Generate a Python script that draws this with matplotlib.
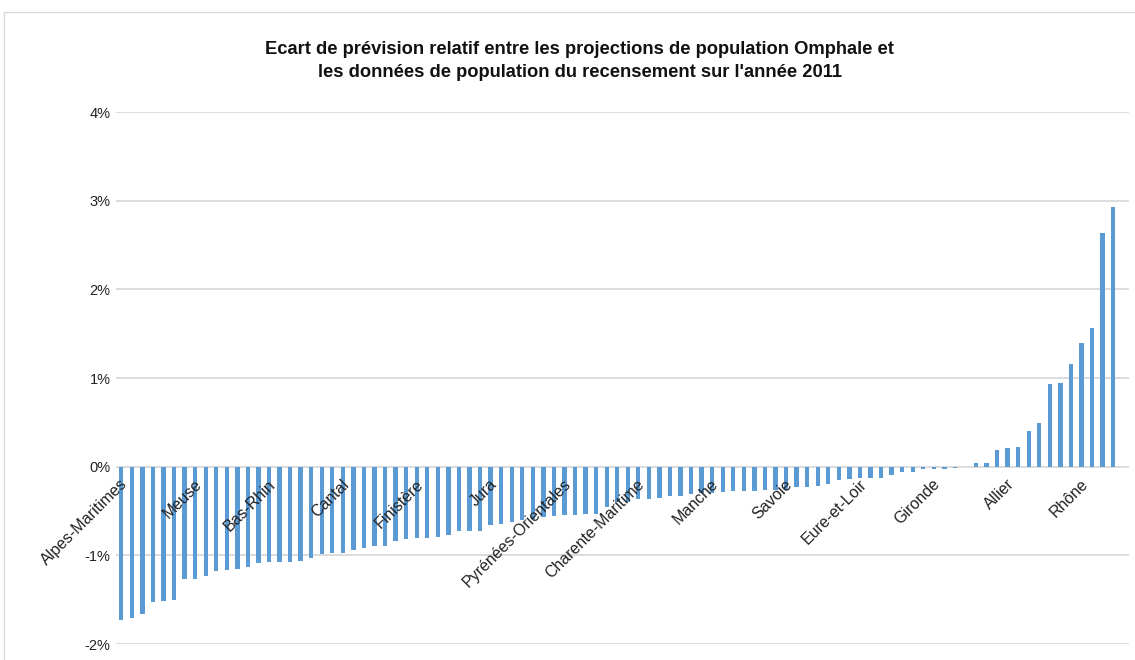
import matplotlib
matplotlib.use("Agg")
import matplotlib.pyplot as plt
from matplotlib.patches import Rectangle
from matplotlib.ticker import FuncFormatter
from matplotlib.transforms import ScaledTranslation

# Relative forecast gap (%) per département, sorted ascending
values = [
    -1.73, -1.71, -1.66, -1.53, -1.52, -1.50, -1.27, -1.27, -1.23, -1.18,
    -1.17, -1.15, -1.13, -1.09, -1.07, -1.07, -1.07, -1.06, -1.03, -0.98,
    -0.97, -0.97, -0.935, -0.92, -0.90, -0.89, -0.84, -0.82, -0.80, -0.80,
    -0.79, -0.77, -0.73, -0.72, -0.72, -0.66, -0.65, -0.62, -0.60, -0.59,
    -0.57, -0.56, -0.55, -0.55, -0.53, -0.53, -0.46, -0.40, -0.40, -0.37,
    -0.37, -0.35, -0.335, -0.335, -0.31, -0.30, -0.30, -0.29, -0.27, -0.27,
    -0.27, -0.26, -0.26, -0.26, -0.23, -0.23, -0.22, -0.19, -0.15, -0.14,
    -0.13, -0.125, -0.125, -0.09, -0.065, -0.055, -0.03, -0.03, -0.03, -0.01,
    -0.005, 0.04, 0.04, 0.19, 0.21, 0.22, 0.40, 0.49, 0.93, 0.94,
    1.155, 1.39, 1.56, 2.63, 2.93,
]
n_slots = 96  # one empty category slot at the end
label_positions = [0, 7, 14, 21, 28, 35, 42, 49, 56, 63, 70, 77, 84, 91]
labels = ["Alpes-Maritimes", "Meuse", "Bas-Rhin", "Cantal", "Finistère", "Jura",
          "Pyrénées-Orientales", "Charente-Maritime", "Manche", "Savoie",
          "Eure-et-Loir", "Gironde", "Allier", "Rhône"]
yticks = [-2, -1, 0, 1, 2, 3, 4]
title = ("Ecart de prévision relatif entre les projections de population Omphale et\n"
         "les données de population du recensement sur l'année 2011")

plt.rcParams['font.family'] = ['Liberation Sans', 'DejaVu Sans']

W, H = 1135, 660
fig = plt.figure(figsize=(W / 100, H / 100), dpi=100)
fig.patch.set_facecolor('white')

# chart border (top and left visible)
fig.patches.append(Rectangle((4 / W, -0.1), 1.2, (H - 12) / H + 0.1,
                             transform=fig.transFigure, fill=False,
                             edgecolor='#d9d9d9', lw=1.0))

ax = fig.add_axes([116 / W, 16 / H, (1129 - 116) / W, (644 - 112) / H])
ax.set_facecolor('none')

for yv in yticks:
    ax.axhline(yv, color='#d9d9d9', lw=1.3, zorder=0.5)

ax.bar(range(len(values)), values, width=0.41, color='#5b9bd5', zorder=1)

ax.set_xlim(-0.5, n_slots - 0.5)
ax.set_ylim(-2, 4)
ax.set_yticks(yticks)
ax.yaxis.set_major_formatter(FuncFormatter(lambda v, p: f"{v:.0f}%"))
ax.tick_params(axis='y', length=0, pad=4, labelsize=10.5, labelcolor='#222222')

for s in ['top', 'right', 'left']:
    ax.spines[s].set_visible(False)
ax.spines['bottom'].set_position(('data', 0))
ax.spines['bottom'].set_visible(False)
ax.set_xticks(label_positions)
ax.set_xticklabels(labels, rotation=45, ha='right', va='center',
                   rotation_mode='anchor', fontsize=11.5, color='#222222')
ax.tick_params(axis='x', length=0, pad=11)
shift = ScaledTranslation(4 / 100, 0, fig.dpi_scale_trans)
for t in ax.get_xticklabels():
    t.set_zorder(3)
    t.set_transform(t.get_transform() + shift)

fig.text(579.5 / W, 1 - 61 / H, title, ha='center', va='center',
         fontsize=13.2, fontweight='bold', linespacing=1.5, color='#111111')

fig.savefig('out.png', dpi=100, facecolor='white')
